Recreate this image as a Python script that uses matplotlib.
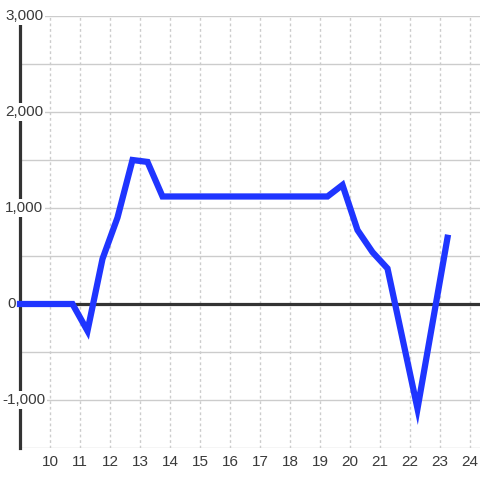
import matplotlib
matplotlib.use("Agg")
import matplotlib.pyplot as plt
import matplotlib.transforms as mtransforms

plt.rcParams['font.family'] = ['Liberation Sans', 'DejaVu Sans']

# Data
x_hours = [9.0, 9.25, 9.75, 10.25, 10.75, 11.25, 11.75, 12.25, 12.75, 13.25, 13.75,
           14.25, 14.75, 15.25, 15.75, 16.25, 16.75, 17.25, 17.75, 18.25, 18.75, 19.25,
           19.75, 20.25, 20.75, 21.25, 21.75, 22.25, 22.75, 23.25]
values = [0, 0, 0, 0, 0, -280, 470, 900, 1500, 1480, 1120,
          1120, 1120, 1120, 1120, 1120, 1120, 1120, 1120, 1120, 1120, 1120,
          1240, 770, 540, 370, -360, -1090, -200, 690]
x_ticks = list(range(10, 25))
y_ticks = [-1000, 0, 1000, 2000, 3000]
y_tick_labels = ["-1,000", "0", "1,000", "2,000", "3,000"]
y_grid = [-1500, -1000, -500, 0, 500, 1000, 1500, 2000, 2500, 3000]

W, H = 480, 480
fig = plt.figure(figsize=(W / 100, H / 100), dpi=100)
fig.patch.set_facecolor("white")
ax = fig.add_axes([20 / W, 32 / H, 460 / W, 432 / H])
ax.set_facecolor("white")

ax.set_xlim(9, 9 + 460 / 30)
ax.set_ylim(-1500, 3000)

grid_c = "#cccccc"
for g in y_grid:
    ax.axhline(g, color=grid_c, lw=1, zorder=1)
for t in x_ticks:
    ax.axvline(t, color=grid_c, lw=1, ls=(0, (2, 2)), zorder=1)

ax.axhline(0, color="#333333", lw=2.3, zorder=2)

ax.plot(x_hours, values, color="#1f35ff", lw=4.5, solid_joinstyle="miter",
        solid_capstyle="projecting", zorder=7, clip_on=False)

for s in ["top", "right", "bottom"]:
    ax.spines[s].set_visible(False)
ax.spines["left"].set_color("#333333")
ax.spines["left"].set_linewidth(2.3)
ax.spines["left"].set_zorder(4)
ax.spines["left"].set_bounds(-1500, 2920)

ax.set_xticks(x_ticks)
ax.set_xticklabels([str(t) for t in x_ticks])
ax.set_yticks([])
ax.tick_params(axis="x", length=0, pad=5, labelsize=11, labelcolor="#3a3a3a")

# left pixel positions of y labels (relative to axes left edge at 20px)
label_left_px = {-1000: 2, 0: 7, 1000: 5, 2000: 5, 3000: 5}
trans = mtransforms.blended_transform_factory(ax.transAxes, ax.transData)
for v, lab in zip(y_ticks, y_tick_labels):
    xpos = (label_left_px[v] - 20) / 460
    ax.text(xpos, v, lab, transform=trans, ha="left", va="center",
            fontsize=11, color="#3a3a3a", zorder=6, clip_on=False,
            bbox=dict(facecolor="white", edgecolor="none", pad=1.5))

fig.savefig("out.png", dpi=100, facecolor="white")
